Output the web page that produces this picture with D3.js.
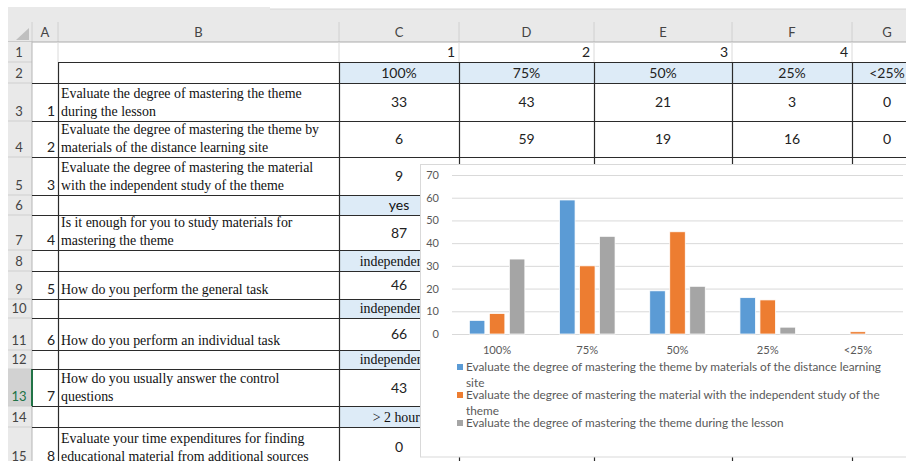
<!DOCTYPE html>
<meta charset="utf-8">
<script src="https://d3js.org/d3.v7.min.js"></script>
<style>
  body { margin: 0; background: #fff; }
  svg { display: block; }
</style>
<div id="sheet"></div>
<script>

// ---- data ----
var catLabels = ['100%', '75%', '50%', '25%', '<25%'];
var seriesNames = [
  'Evaluate the degree of mastering the theme by materials of the distance learning site',
  'Evaluate the degree of mastering the material with the independent study of the theme',
  'Evaluate the degree of mastering the theme during the lesson'
];
var siteValues = [6, 59, 19, 16, 0];
var selfStudyValues = [9, 30, 45, 15, 1];
var lessonValues = [33, 43, 21, 3, 0];
var yTicks = [0, 10, 20, 30, 40, 50, 60, 70];

// spreadsheet contents
var colLetters = ['A', 'B', 'C', 'D', 'E', 'F', 'G'];
var rowNumbers = [1, 2, 3, 4, 5, 6, 7, 8, 9, 10, 11, 12, 13, 14, 15];
var headerNumbers = [1, 2, 3, 4];
var questionRows = [3, 4, 5, 7, 9, 11, 13, 15];
var questionNos = [1, 2, 3, 4, 5, 6, 7, 8];
var questionTexts = [
  ['Evaluate the degree of mastering the theme', 'during the lesson'],
  ['Evaluate the degree of mastering the theme by', 'materials of the distance learning site'],
  ['Evaluate the degree of mastering the material', 'with the independent study of the theme'],
  ['Is it enough for you to study materials for', 'mastering the theme'],
  ['How do you perform the general task'],
  ['How do you perform an individual task'],
  ['How do you usually answer the control', 'questions'],
  ['Evaluate your time expenditures for finding', 'educational material from additional sources']
];
var questionValues = [lessonValues, siteValues, selfStudyValues, [87], [46], [66], [43], [0]];
var answerRows = [6, 8, 10, 12, 14];
var answerLabels = ['yes', 'independently', 'independently', 'independently', '> 2 hours'];

// ---- layout ----
var W = 906, H = 461;
var rowEdges = [22, 42, 62, 83, 121, 157, 195, 215, 250, 271, 299, 318, 350, 369, 406, 427, 466];
var colEdges = [8, 32, 58, 339, 459, 594, 732, 852, 922];
var chartL = 420, chartT = 164;
var sans = 'Lato, "Open Sans", sans-serif';
var serif = '"Liberation Serif", "DejaVu Serif", serif';

var svg = d3.select('#sheet').append('svg')
    .attr('width', W)
    .attr('height', H);

function rowTop(r) { return rowEdges[r]; }
function rowBot(r) { return rowEdges[r + 1]; }
function colL(c) { return colEdges[c + 1]; }   // c: 0 = A
function colR(c) { return colEdges[c + 2]; }

// clip for cell text that runs under the chart
svg.append('clipPath').attr('id', 'underChart')
  .append('rect').attr('x', 0).attr('y', 0).attr('width', chartL).attr('height', H);

// top bars
svg.append('rect').attr('x', 0).attr('y', 0).attr('width', W).attr('height', H).attr('fill', '#fff');
svg.append('rect').attr('x', 8).attr('y', 7).attr('width', 262).attr('height', 35).attr('fill', '#e9e9e9');
svg.append('rect').attr('x', 270).attr('y', 9).attr('width', W - 270).attr('height', 33).attr('fill', '#e9e9e9');
svg.append('line').attr('x1', 270).attr('x2', W).attr('y1', 9).attr('y2', 9).attr('stroke', '#d6d6d6');

// select-all triangle
svg.append('path')
    .attr('d', 'M29,28 L29,40 L16,40 Z')
    .attr('fill', '#bfbfbf');

// column headers
svg.append('g').selectAll('line')
  .data(colEdges.slice(1))
  .enter().append('line')
    .attr('x1', function(d) { return d; }).attr('x2', function(d) { return d; })
    .attr('y1', 22).attr('y2', 42)
    .attr('stroke', '#d0d0d0');
svg.append('line').attr('x1', 8).attr('x2', W).attr('y1', 42).attr('y2', 42).attr('stroke', '#ababab');

svg.append('g').selectAll('text')
  .data(colLetters)
  .enter().append('text')
    .attr('x', function(d, i) { return (colL(i) + colR(i)) / 2; })
    .attr('y', 37)
    .attr('text-anchor', 'middle')
    .style('font-family', sans).style('font-size', '13px').style('fill', '#444')
    .text(function(d) { return d; });

// row headers
svg.append('rect').attr('x', 8).attr('y', 42).attr('width', 24).attr('height', H - 42).attr('fill', '#e9e9e9');
svg.append('rect').attr('x', 8).attr('y', rowTop(13)).attr('width', 24).attr('height', rowBot(13) - rowTop(13)).attr('fill', '#d2d2d2');
svg.append('g').selectAll('line')
  .data(rowNumbers)
  .enter().append('line')
    .attr('x1', 8).attr('x2', 32)
    .attr('y1', function(d) { return rowBot(d); }).attr('y2', function(d) { return rowBot(d); })
    .attr('stroke', '#cfcfcf');
svg.append('line').attr('x1', 32).attr('x2', 32).attr('y1', 42).attr('y2', H).attr('stroke', '#b5b5b5');
svg.append('line').attr('x1', 32).attr('x2', 32).attr('y1', rowTop(13)).attr('y2', rowBot(13))
    .attr('stroke', '#217346').attr('stroke-width', 2);

svg.append('g').selectAll('text')
  .data(rowNumbers)
  .enter().append('text')
    .attr('x', 19)
    .attr('y', function(d) { return rowBot(d) - 5; })
    .attr('text-anchor', 'middle')
    .style('font-family', sans).style('font-size', '13px')
    .style('fill', function(d) { return d === 13 ? '#217346' : '#444'; })
    .text(function(d) { return d; });

// cell fills (blue header cells)
var blueRows = [2].concat(answerRows);
svg.append('g').selectAll('rect')
  .data(blueRows)
  .enter().append('rect')
    .attr('x', colL(2)).attr('y', function(d) { return rowTop(d); })
    .attr('width', colR(6) - colL(2))
    .attr('height', function(d) { return rowBot(d) - rowTop(d); })
    .attr('fill', '#ddebf7');

// light gridlines in row 1
svg.append('g').selectAll('line')
  .data(colEdges.slice(2))
  .enter().append('line')
    .attr('x1', function(d) { return d; }).attr('x2', function(d) { return d; })
    .attr('y1', 42).attr('y2', 62)
    .attr('stroke', '#dadada');

// table borders
var borders = svg.append('g').attr('stroke', '#2b2b2b').attr('stroke-width', 1.2);
borders.append('line').attr('x1', 58).attr('x2', W).attr('y1', 62.5).attr('y2', 62.5);
borders.selectAll('line.h')
  .data(d3.range(3, rowEdges.length))
  .enter().append('line').attr('class', 'h')
    .attr('x1', 32).attr('x2', W)
    .attr('y1', function(d) { return rowEdges[d] + 0.5; })
    .attr('y2', function(d) { return rowEdges[d] + 0.5; });
borders.selectAll('line.v')
  .data(colEdges.slice(2, 8))
  .enter().append('line').attr('class', 'v')
    .attr('x1', function(d) { return d + 0.5; }).attr('x2', function(d) { return d + 0.5; })
    .attr('y1', 62).attr('y2', H);

// row 1 numbers (right aligned)
svg.append('g').selectAll('text')
  .data(headerNumbers)
  .enter().append('text')
    .attr('x', function(d, i) { return colR(2 + i) - 4; })
    .attr('y', 57)
    .attr('text-anchor', 'end')
    .style('font-family', sans).style('font-size', '14px').style('fill', '#222')
    .text(function(d) { return d; });

// row 2 score labels
svg.append('g').selectAll('text')
  .data(catLabels)
  .enter().append('text')
    .attr('x', function(d, i) { return (colL(2 + i) + colR(2 + i)) / 2; })
    .attr('y', 78)
    .attr('text-anchor', 'middle')
    .style('font-family', sans).style('font-size', '14px').style('fill', '#222')
    .text(function(d) { return d; });

// question rows
questionRows.forEach(function(r, qi) {
  var top = rowTop(r), bot = rowBot(r);
  svg.append('text')
      .attr('x', 55).attr('y', bot - 5)
      .attr('text-anchor', 'end')
      .style('font-family', sans).style('font-size', '14px').style('fill', '#222')
      .text(questionNos[qi]);
  var lines = questionTexts[qi];
  lines.forEach(function(t, li) {
    svg.append('text')
        .attr('x', 61)
        .attr('y', bot - 5 - (lines.length - 1 - li) * 18)
        .style('font-family', serif).style('font-size', '13.9px').style('fill', '#111')
        .text(t);
  });
  questionValues[qi].forEach(function(v, vi) {
    svg.append('text')
        .attr('x', (colL(2 + vi) + colR(2 + vi)) / 2)
        .attr('y', (top + bot) / 2 + 5)
        .attr('text-anchor', 'middle')
        .style('font-family', sans).style('font-size', '14px').style('fill', '#222')
        .text(v);
  });
});

// answer label rows (cut off where the chart sits on top)
answerRows.forEach(function(r, ai) {
  var isSans = answerLabels[ai] === 'yes';
  svg.append('text')
      .attr('clip-path', 'url(#underChart)')
      .attr('x', (colL(2) + colR(2)) / 2)
      .attr('y', rowBot(r) - 5)
      .attr('text-anchor', 'middle')
      .style('font-family', isSans ? sans : serif)
      .style('font-size', isSans ? '14px' : '13.9px')
      .style('fill', '#111')
      .text(answerLabels[ai]);
});

// ---- embedded chart ----
var chart = svg.append('g');
chart.append('rect')
    .attr('x', chartL + 0.5).attr('y', chartT + 0.5)
    .attr('width', 500).attr('height', 292.5)
    .attr('fill', '#fff')
    .attr('stroke', '#d9d9d9');

var plotL = 452, plotR = 903, plotT = 175, plotB = 334;

var y = d3.scaleLinear().domain([0, 70]).range([plotB, plotT]);
var x0 = d3.scaleBand().domain(catLabels).range([plotL, plotR]);
var x1 = d3.scaleBand().domain(seriesNames).range([0, x0.bandwidth()])
    .paddingInner(0.225).paddingOuter(0.8675);
var color = d3.scaleOrdinal().domain(seriesNames).range(['#5b9bd5', '#ed7d31', '#a5a5a5']);
var seriesValues = [siteValues, selfStudyValues, lessonValues];

var yAxis = chart.append('g')
    .attr('transform', 'translate(' + plotL + ',0)')
    .call(d3.axisLeft(y).tickValues(yTicks).tickSize(-(plotR - plotL)).tickPadding(13));
yAxis.select('.domain').remove();
yAxis.selectAll('.tick line').attr('stroke', '#d9d9d9');
yAxis.selectAll('.tick text')
    .style('font-family', sans).style('font-size', '11px').style('fill', '#595959');

var xAxis = chart.append('g')
    .attr('transform', 'translate(0,' + plotB + ')')
    .call(d3.axisBottom(x0).tickSize(0).tickPadding(12));
xAxis.select('.domain').remove();
xAxis.selectAll('.tick text')
    .style('font-family', sans).style('font-size', '11.2px').style('fill', '#595959');

var groups = chart.append('g').selectAll('g')
  .data(catLabels)
  .enter().append('g')
    .attr('transform', function(d) { return 'translate(' + x0(d) + ',0)'; });

groups.selectAll('rect')
  .data(function(d, ci) {
    return seriesNames.map(function(s, si) { return { key: s, value: seriesValues[si][ci] }; });
  })
  .enter().append('rect')
    .attr('x', function(d) { return x1(d.key); })
    .attr('y', function(d) { return y(d.value); })
    .attr('width', x1.bandwidth())
    .attr('height', function(d) { return plotB - y(d.value); })
    .attr('fill', function(d) { return color(d.key); })
    .attr('stroke', '#fff')
    .attr('stroke-width', 0.75);

// legend (wrapped to the chart width like Excel does)
var legendX = 457, legendTextX = 466, legendMax = 424;
var lineH = 15.5, entryGap = 12.5;
var legend = chart.append('g');
var ly = 367;
seriesNames.forEach(function(name, i) {
  legend.append('rect')
      .attr('x', legendX).attr('y', ly - 3)
      .attr('width', 6).attr('height', 6)
      .attr('fill', color(name));
  var words = name.split(' ');
  var t = legend.append('text')
      .attr('x', legendTextX).attr('y', ly + 4)
      .style('font-family', sans).style('font-size', '11.8px').style('fill', '#595959');
  var line = [], nLines = 1;
  var tspan = t.append('tspan').attr('x', legendTextX);
  words.forEach(function(w) {
    line.push(w);
    tspan.text(line.join(' '));
    if (tspan.node().getComputedTextLength() > legendMax && line.length > 1) {
      line.pop();
      tspan.text(line.join(' '));
      line = [w];
      tspan = t.append('tspan').attr('x', legendTextX).attr('dy', lineH).text(w);
      nLines++;
    }
  });
  ly += (nLines - 1) * lineH + entryGap;
});

</script>
